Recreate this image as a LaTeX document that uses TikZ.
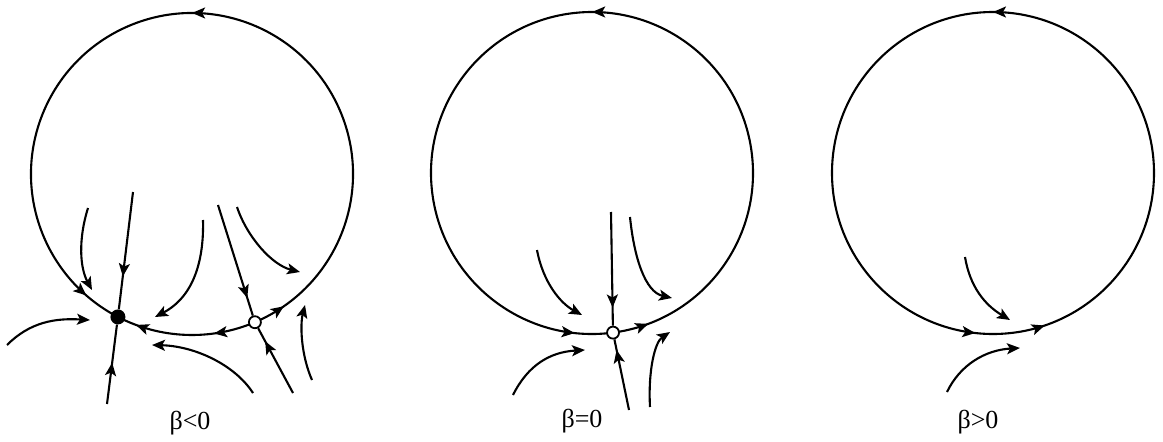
\documentclass[tikz,border=0pt]{standalone}
\usepackage{fontspec}
\setmainfont{Liberation Serif}
\usetikzlibrary{arrows.meta,decorations.markings}
\tikzset{
  traj/.style={line width=2.1pt},
  tip/.style={-{Stealth[length=13pt,width=11pt,inset=3pt]}},
  marr/.style={postaction={decorate,decoration={markings,mark=at position #1 with {\arrow{Stealth[length=13pt,width=11pt,inset=3pt]}}}}},
  bdot/.style={circle,fill=black,inner sep=0pt,minimum size=15pt},
  odot/.style={circle,draw,fill=white,line width=1.8pt,inner sep=0pt,minimum size=12pt},
  lab/.style={font=\fontsize{26}{28}\selectfont,inner sep=0pt}
}
\begin{document}
\begin{tikzpicture}[x=1pt,y=1pt]
\useasboundingbox[fill=white] (0,0) rectangle (1163,-442);
% ---------- panel 1 : beta<0 ----------
\coordinate (c1) at (192,-174);
\coordinate (ps1) at ([shift={(242.6:161)}]c1);
\coordinate (pu1) at ([shift={(293:161)}]c1);
\draw[traj,marr=0.038,marr=0.507,marr=0.956] (pu1) arc[start angle=293,end angle=602.6,radius=161];
\draw[traj,marr=0.3,marr=0.86] (pu1) arc[start angle=293,end angle=242.6,radius=161];
\node[bdot] (s1) at (ps1) {};
\node[odot] (u1) at (pu1) {};
\coordinate (a1) at (133,-192);
\coordinate (a2) at (107,-404);
\coordinate (a3) at (218,-205);
\coordinate (a4) at (293,-393);
\draw[traj,marr=0.72] (a1) -- (s1);
\draw[traj,marr=0.52] (a2) -- (s1);
\draw[traj,marr=0.84] (a3) -- (u1);
\draw[traj,marr=0.8] (a4) -- (u1);
\coordinate (b1s) at (88,-208);   \coordinate (b1e) at (92,-290);
\coordinate (b2s) at (7,-345);    \coordinate (b2e) at (90,-320);
\coordinate (b3s) at (203,-220);  \coordinate (b3e) at (155,-317);
\coordinate (b4s) at (253,-393);  \coordinate (b4e) at (152,-345);
\coordinate (b5s) at (237,-207);  \coordinate (b5e) at (300,-272);
\coordinate (b6s) at (312,-380);  \coordinate (b6e) at (305,-305);
\draw[traj,tip] (b1s) .. controls (78,-240) and (80,-268) .. (b1e);
\draw[traj,tip] (b2s) .. controls (30,-322) and (55,-318) .. (b2e);
\draw[traj,tip] (b3s) .. controls (204,-258) and (195,-296) .. (b3e);
\draw[traj,tip] (b4s) .. controls (235,-365) and (195,-346) .. (b4e);
\draw[traj,tip] (b5s) .. controls (247,-237) and (272,-265) .. (b5e);
\draw[traj,tip] (b6s) .. controls (301,-355) and (300,-325) .. (b6e);
\node[lab] (l1) at (190,-423) {β<0};
% ---------- panel 2 : beta=0 ----------
\coordinate (c2) at (592,-173);
\coordinate (pu2) at ([shift={(277.5:161)}]c2);
\draw[traj,marr=0.036,marr=0.479,marr=0.962] (pu2) arc[start angle=277.5,end angle=637.5,radius=161];
\node[odot] (u2) at (pu2) {};
\coordinate (d1) at (611,-212);
\coordinate (d2) at (629,-410);
\draw[traj,marr=0.84] (d1) -- (u2);
\draw[traj,marr=0.85] (d2) -- (u2);
\coordinate (e1s) at (537,-250);  \coordinate (e1e) at (582,-315);
\coordinate (e2s) at (630,-217);  \coordinate (e2e) at (672,-298);
\coordinate (e3s) at (513,-395);  \coordinate (e3e) at (585,-350);
\coordinate (e4s) at (650,-407);  \coordinate (e4e) at (670,-332);
\draw[traj,tip] (e1s) .. controls (543,-282) and (560,-303) .. (e1e);
\draw[traj,tip] (e2s) .. controls (634,-257) and (645,-292) .. (e2e);
\draw[traj,tip] (e3s) .. controls (528,-365) and (550,-352) .. (e3e);
\draw[traj,tip] (e4s) .. controls (648,-370) and (655,-342) .. (e4e);
\node[lab] (l2) at (582,-421) {β=0};
% ---------- panel 3 : beta>0 ----------
\coordinate (c3) at (993,-173);
\coordinate (p3) at ([shift={(180:161)}]c3);
\draw[traj,marr=0.2325,marr=0.302,marr=0.75] (p3) arc[start angle=180,end angle=540,radius=161];
\coordinate (f1s) at (965,-257);  \coordinate (f1e) at (1010,-320);
\coordinate (f2s) at (947,-392);  \coordinate (f2e) at (1020,-348);
\draw[traj,tip] (f1s) .. controls (970,-287) and (985,-305) .. (f1e);
\draw[traj,tip] (f2s) .. controls (960,-365) and (985,-350) .. (f2e);
\node[lab] (l3) at (978,-422) {β>0};
\end{tikzpicture}
\end{document}
